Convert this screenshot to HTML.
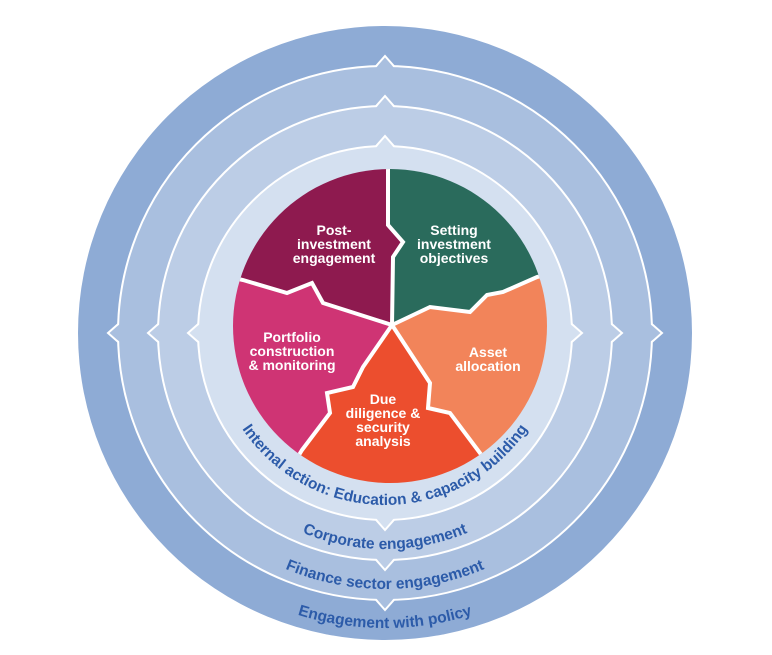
<!DOCTYPE html>
<html><head><meta charset="utf-8"><style>html,body{margin:0;padding:0;background:#fff}svg{display:block}</style></head>
<body>
<svg width="772" height="655" viewBox="0 0 772 655" xmlns="http://www.w3.org/2000/svg" font-family="Liberation Sans, sans-serif">
<defs>
<clipPath id="pc"><circle cx="390" cy="326" r="157"/></clipPath>
<path id="a1" d="M213,333 A172,172 0 0 0 557,333"/>
<path id="a2" d="M169,333 A216,216 0 0 0 601,333"/>
<path id="a3" d="M129,333 A256,256 0 0 0 641,333"/>
<path id="a4" d="M90,333 A295,295 0 0 0 680,333"/>
</defs>
<circle cx="385" cy="333" r="307" fill="#8eabd5"/>
<circle cx="385" cy="333" r="267" fill="#a9bfdf"/>
<circle cx="385" cy="333" r="227" fill="#bccde6"/>
<circle cx="385" cy="333" r="187" fill="#d4e0f0"/>
<g fill="none" stroke="#fff" stroke-width="2">
<circle cx="385" cy="333" r="267"/>
<circle cx="385" cy="333" r="227"/>
<circle cx="385" cy="333" r="187"/>
</g>
<g id="n">
<polygon fill="#a9bfdf" points="376,68 385,56 394,68"/>
<polyline fill="none" stroke="#fff" stroke-width="2" points="376,66.2 385,56 394,66.2"/>
<polygon fill="#bccde6" points="376,108 385,96 394,108"/>
<polyline fill="none" stroke="#fff" stroke-width="2" points="376,106.2 385,96 394,106.2"/>
<polygon fill="#d4e0f0" points="376,148 385,136 394,148"/>
<polyline fill="none" stroke="#fff" stroke-width="2" points="376,146.2 385,136 394,146.2"/>
</g>
<use href="#n" transform="rotate(90 385 333)"/>
<use href="#n" transform="rotate(180 385 333)"/>
<use href="#n" transform="rotate(270 385 333)"/>
<g clip-path="url(#pc)">
<polygon fill="#8e1a4f" points="392,325 323,303 312,283 287,293 243,280 200,270 200,120 388,120 388,225 403,242 393,257"/>
<polygon fill="#2a6b5c" points="392,325 393,257 403,242 388,225 388,120 600,120 600,262 537,277 503,292 487,295 470,312 430,307"/>
<polygon fill="#f2845a" points="392,325 430,307 470,312 487,295 503,292 537,277 600,262 600,520 495,475 480,453 450,413 428,408 430,383"/>
<polygon fill="#ec4e2e" points="392,325 430,383 428,408 450,413 480,453 495,475 495,520 280,520 290,470 302,450 330,413 327,393 353,387 363,367"/>
<polygon fill="#cf3474" points="392,325 363,367 353,387 327,393 330,413 302,450 290,470 180,520 180,270 243,280 287,293 312,283 323,303"/>
<g fill="none" stroke="#fff" stroke-width="4" stroke-linejoin="miter">
<polyline points="392,325 393,257 403,242 388,225 388,120"/>
<polyline points="392,325 430,307 470,312 487,295 503,292 537,277 600,262"/>
<polyline points="392,325 430,383 428,408 450,413 480,453 495,475"/>
<polyline points="392,325 363,367 353,387 327,393 330,413 302,450 290,470"/>
<polyline points="392,325 323,303 312,283 287,293 243,280 200,270"/>
</g>
</g>
<g fill="#fff" font-weight="bold" font-size="14" text-anchor="middle">
<text x="334" y="235">Post-</text><text x="334" y="249">investment</text><text x="334" y="263">engagement</text>
<text x="454" y="235">Setting</text><text x="454" y="249">investment</text><text x="454" y="263">objectives</text>
<text x="292" y="342">Portfolio</text><text x="292" y="356">construction</text><text x="292" y="370">&amp; monitoring</text>
<text x="488" y="357">Asset</text><text x="488" y="371">allocation</text>
<text x="383" y="404">Due</text><text x="383" y="418">diligence &amp;</text><text x="383" y="432">security</text><text x="383" y="446">analysis</text>
</g>
<g fill="#2c5ba9" font-weight="bold" font-size="15.5" text-anchor="middle">
<text><textPath href="#a1" startOffset="50%">Internal action: Education &amp; capacity building</textPath></text>
<text><textPath href="#a2" startOffset="50%">Corporate engagement</textPath></text>
<text><textPath href="#a3" startOffset="50%">Finance sector engagement</textPath></text>
<text><textPath href="#a4" startOffset="50%">Engagement with policy</textPath></text>
</g>
</svg>
</body></html>
